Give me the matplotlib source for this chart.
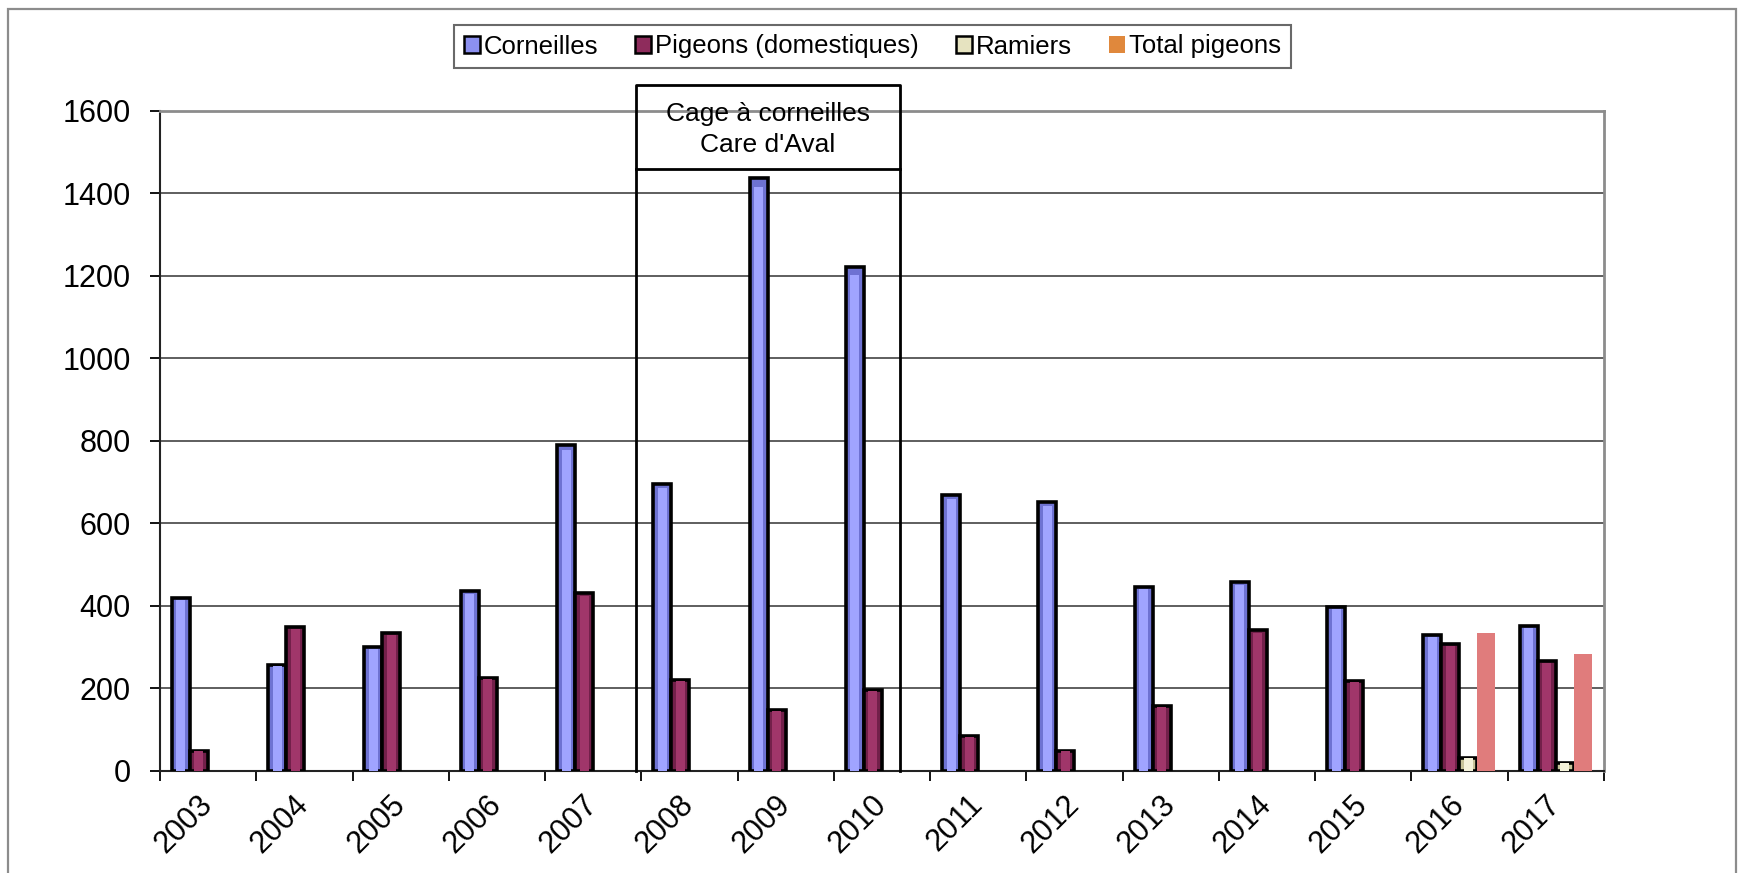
import matplotlib
matplotlib.use("Agg")
import matplotlib.pyplot as plt
import numpy as np
from matplotlib.patches import Patch, Rectangle

# data
years = ["2003", "2004", "2005", "2006", "2007", "2008", "2009", "2010",
         "2011", "2012", "2013", "2014", "2015", "2016", "2017"]
corneilles = [419, 257, 300, 435, 789, 696, 1437, 1220, 668, 652, 446, 457, 397, 330, 352]
pigeons = [48, 349, 334, 225, 430, 220, 148, 196, 83, 48, 158, 340, 218, 306, 265]
ramiers = [np.nan] * 13 + [31, 19]
total_pigeons = [np.nan] * 13 + [335, 282]

labels = ["Corneilles", "Pigeons (domestiques)", "Ramiers", "Total pigeons"]
box_text = ["Cage à corneilles", "Care d'Aval"]

plt.rcParams['font.family'] = ['Liberation Sans', 'DejaVu Sans']

W, H = 1738, 873
fig = plt.figure(figsize=(W / 100, H / 100), dpi=100)
ax = fig.add_axes([160 / W, 1 - 770.7 / H, (1604 - 160) / W, (770.7 - 110.7) / H])

x = np.arange(len(years))
w = 0.187
start = -0.376 + w / 2

# bevelled bars: base + lighter centre stripe
series = [
    (corneilles, "#6E72D2", "#A0A4FF"),
    (pigeons, "#72204A", "#A0366A"),
    (ramiers, "#C8C49A", "#F4F2DA"),
]
for i, (vals, base, light) in enumerate(series):
    pos = x + start + i * w
    ax.bar(pos, vals, width=w, color=base, edgecolor="black", linewidth=2.6, zorder=3)
    ax.bar(pos, np.array(vals, dtype=float) * 0.985, width=w * 0.5, color=light,
           linewidth=0, zorder=4)

ax.bar(x + start + 3 * w, total_pigeons, width=w, color="#E07C7C", linewidth=0, zorder=3)

ax.set_xlim(-0.5, len(years) - 0.5)
ax.set_ylim(0, 1600)
ax.set_yticks(np.arange(0, 1601, 200))
ax.yaxis.grid(True, color="#333333", linewidth=1.1, zorder=0)
ax.set_axisbelow(True)

ax.set_xticks(x)
ax.set_xticklabels(years, rotation=45, ha="right", va="center", rotation_mode="anchor")
ax.set_xticks(np.arange(-0.5, len(years)), minor=True)
ax.tick_params(axis="x", which="major", length=0, pad=21, labelsize=22)
ax.tick_params(axis="x", which="minor", length=7, width=1.3, direction="out")
ax.tick_params(axis="y", length=7, width=1.3, pad=14, labelsize=22)
for lbl in ax.get_xticklabels():
    lbl.set_x(lbl.get_position()[0])

for s in ["left", "bottom"]:
    ax.spines[s].set_color("#222222")
    ax.spines[s].set_linewidth(1.5)
for s in ["top", "right"]:
    ax.spines[s].set_color("#8c8c8c")
    ax.spines[s].set_linewidth(2)

# framed annotation box
bx0 = (636 - 160) / 96.27 - 0.5
bx1 = (900 - 160) / 96.27 - 0.5
to_val = lambda py: (770.7 - py) * 1600 / 660
ax.plot([bx0, bx0, bx1, bx1], [0, to_val(85), to_val(85), 0], color="black",
        linewidth=2, clip_on=False, zorder=5)
ax.plot([bx0, bx1], [to_val(169), to_val(169)], color="black", linewidth=2,
        clip_on=False, zorder=5)
ax.text((bx0 + bx1) / 2, to_val(114), box_text[0], ha="center", va="center", fontsize=19)
ax.text((bx0 + bx1) / 2, to_val(145), box_text[1], ha="center", va="center", fontsize=19)

handles = [
    Patch(facecolor="#8C90F0", edgecolor="black", linewidth=1.8),
    Patch(facecolor="#8E2C5C", edgecolor="black", linewidth=1.8),
    Patch(facecolor="#E6E3C0", edgecolor="black", linewidth=1.8),
    Patch(facecolor="#E0883C", edgecolor="none"),
]
leg = fig.legend(handles, labels, loc="center", bbox_to_anchor=(872.5 / W, 1 - 46.5 / H),
                 ncol=4, fontsize=18.5, frameon=True, fancybox=False,
                 handlelength=0.62, handleheight=0.62, handletextpad=0.15,
                 columnspacing=1.45, borderpad=0.38)
leg.get_frame().set_edgecolor("#444444")
leg.get_frame().set_linewidth(1.5)

# outer chart frame
fig.patches.append(Rectangle((8 / W, -0.1), (1736 - 8) / W, (873 - 9) / H + 0.1,
                             transform=fig.transFigure, fill=False,
                             edgecolor="#8c8c8c", linewidth=1.6))

fig.savefig("out.png", dpi=100)
